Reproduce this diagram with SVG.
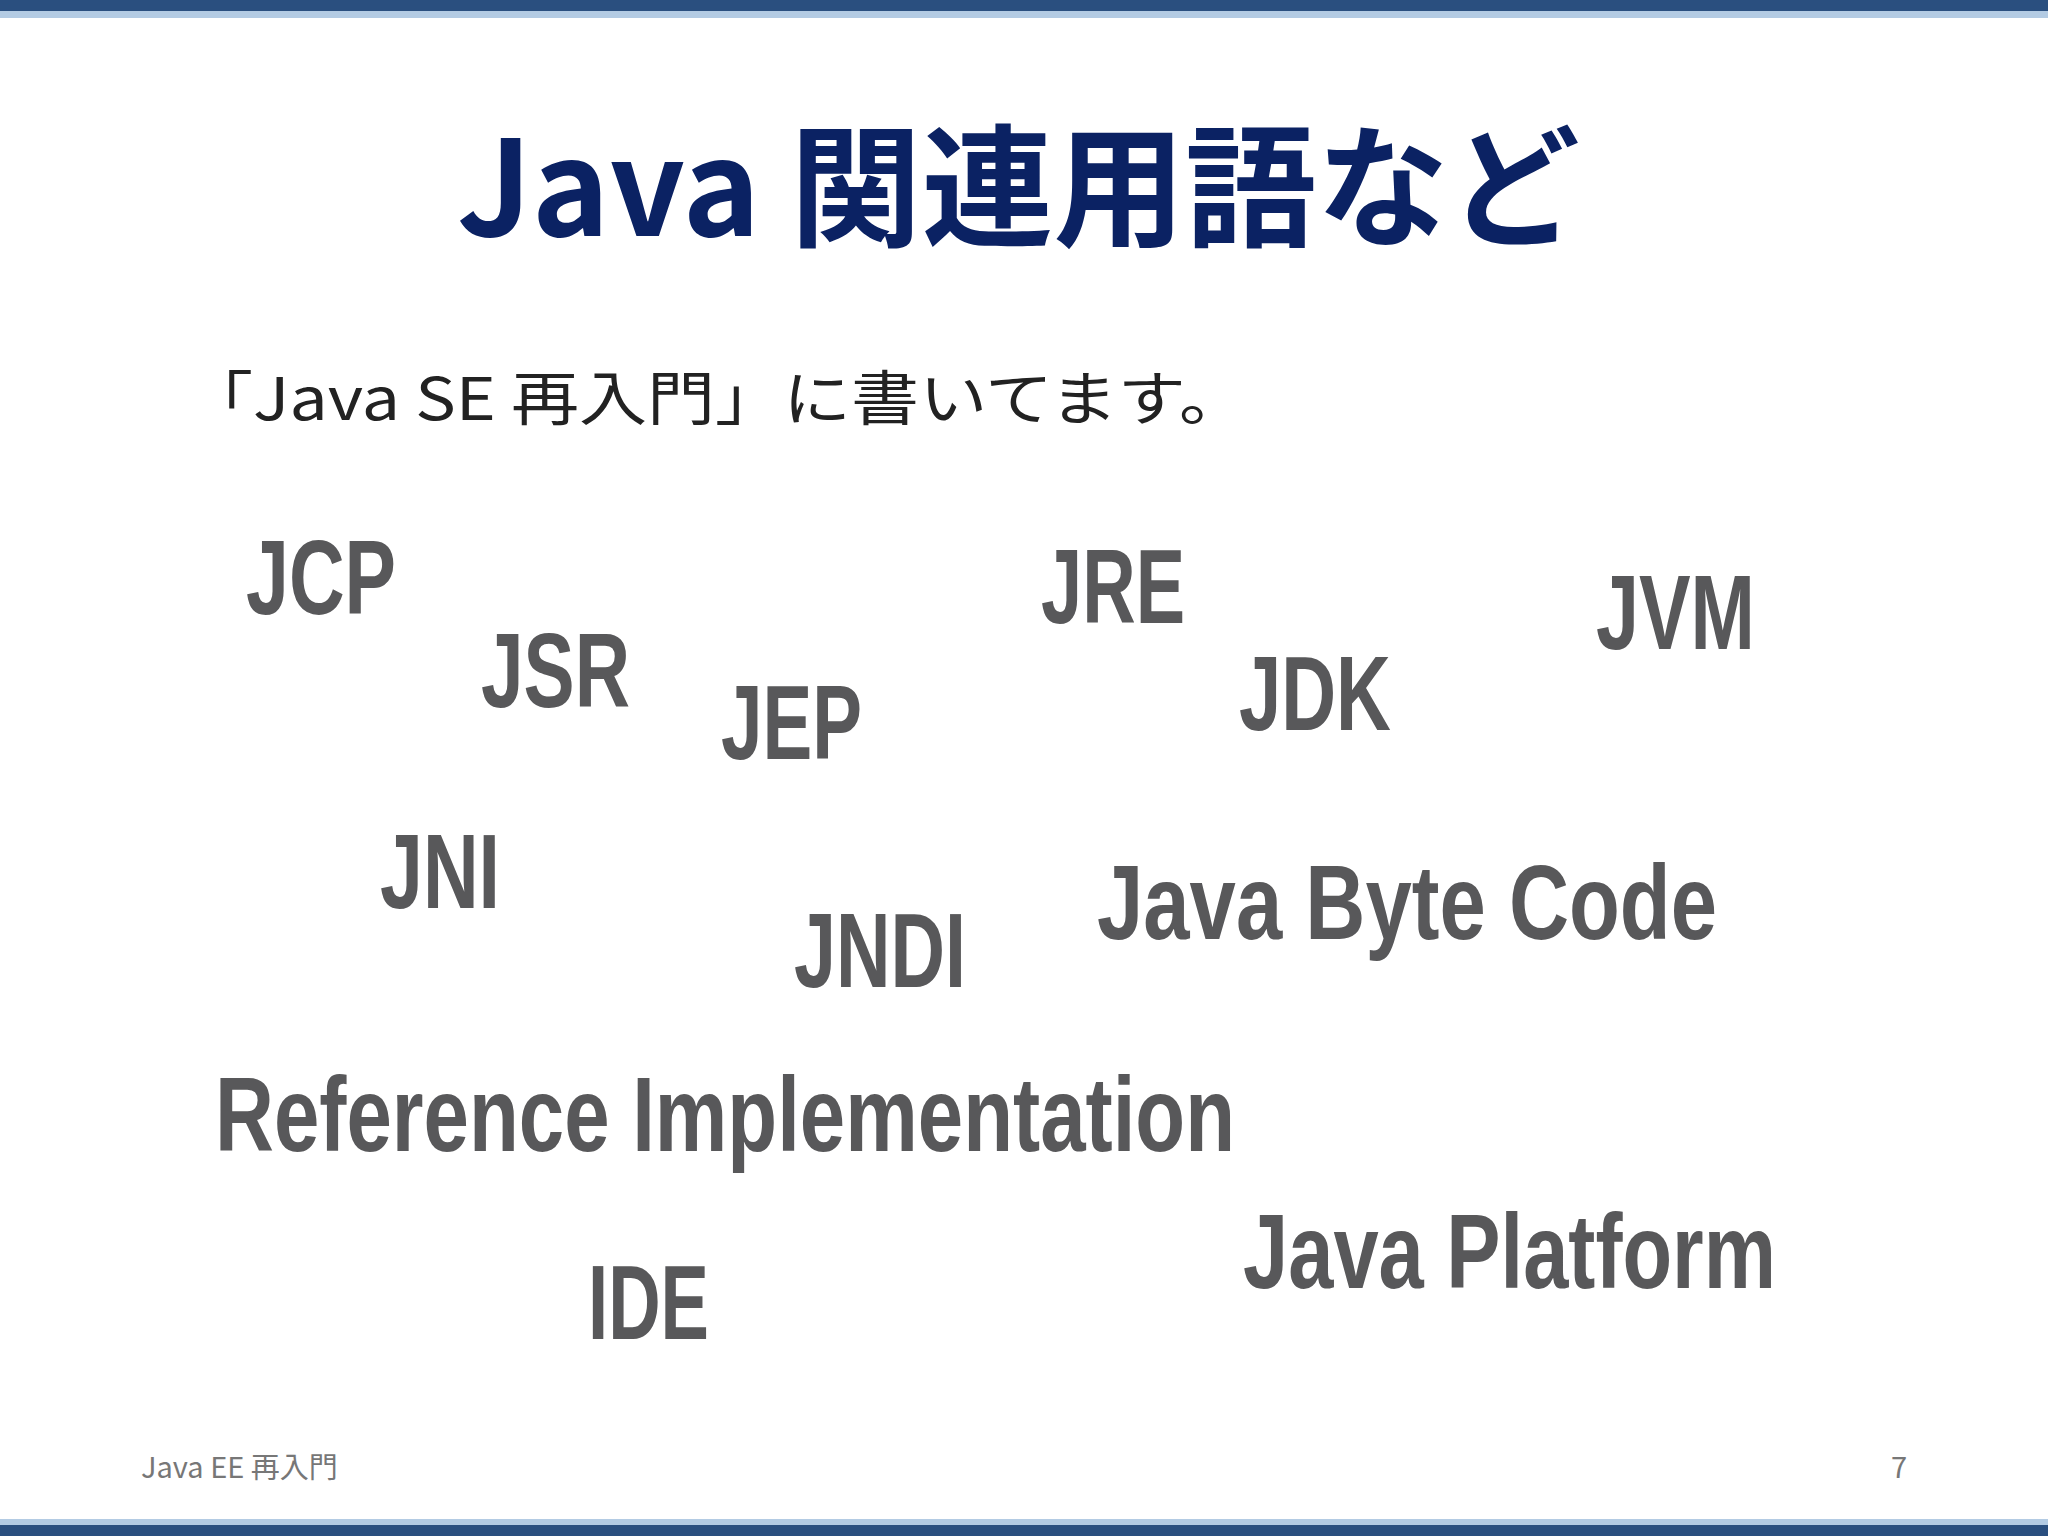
<svg xmlns="http://www.w3.org/2000/svg" width="2048" height="1536" viewBox="0 0 2048 1536">
<style>
.w{font-family:"Liberation Sans",Arial,sans-serif;font-weight:bold;font-size:106px;fill:#58585a}
.t{font-family:"Noto Sans CJK JP",sans-serif;font-weight:bold;font-size:132px;fill:#0b2263}
.s{font-family:"Noto Sans CJK JP",sans-serif;font-size:59px;fill:#222}
.f{font-family:"Noto Sans CJK JP",sans-serif;font-size:29px;fill:#777}
</style>
<rect width="2048" height="1536" fill="#fff"/>
<rect x="0" y="0" width="2048" height="11" fill="#2a4f7f"/>
<rect x="0" y="11" width="2048" height="7" fill="#b3cbe3"/>
<rect x="0" y="1519" width="2048" height="6" fill="#b3cbe3"/>
<rect x="0" y="1525" width="2048" height="11" fill="#2a4f7f"/>
<text class="t" x="457" y="236" textLength="1123" lengthAdjust="spacingAndGlyphs">Java 関連用語など</text>
<text class="s" x="185" y="420" textLength="1062" lengthAdjust="spacingAndGlyphs">「Java SE 再入門」に書いてます。</text>
<g id="words">
<text id="jcp" class="w" x="246" y="614" textLength="150" lengthAdjust="spacingAndGlyphs">JCP</text>
<text id="jsr" class="w" x="481" y="707" textLength="149" lengthAdjust="spacingAndGlyphs">JSR</text>
<text id="jep" class="w" x="721" y="759" textLength="141" lengthAdjust="spacingAndGlyphs">JEP</text>
<text id="jre" class="w" x="1041" y="623" textLength="144" lengthAdjust="spacingAndGlyphs">JRE</text>
<text id="jdk" class="w" x="1239" y="730" textLength="152" lengthAdjust="spacingAndGlyphs">JDK</text>
<text id="jvm" class="w" x="1596" y="649" textLength="159" lengthAdjust="spacingAndGlyphs">JVM</text>
<text id="jni" class="w" x="380" y="908" textLength="120" lengthAdjust="spacingAndGlyphs">JNI</text>
<text id="jndi" class="w" x="794" y="987" textLength="172" lengthAdjust="spacingAndGlyphs">JNDI</text>
<text id="jbc" class="w" x="1097" y="939" textLength="620" lengthAdjust="spacingAndGlyphs">Java Byte Code</text>
<text id="ri" class="w" x="215" y="1151" textLength="1020" lengthAdjust="spacingAndGlyphs">Reference Implementation</text>
<text id="ide" class="w" x="588" y="1339" textLength="121" lengthAdjust="spacingAndGlyphs">IDE</text>
<text id="jp" class="w" x="1243" y="1288" textLength="533" lengthAdjust="spacingAndGlyphs">Java Platform</text>
</g>
<text class="f" x="141" y="1478">Java EE 再入門</text>
<text class="f" x="1907" y="1478" text-anchor="end">7</text>
</svg>
